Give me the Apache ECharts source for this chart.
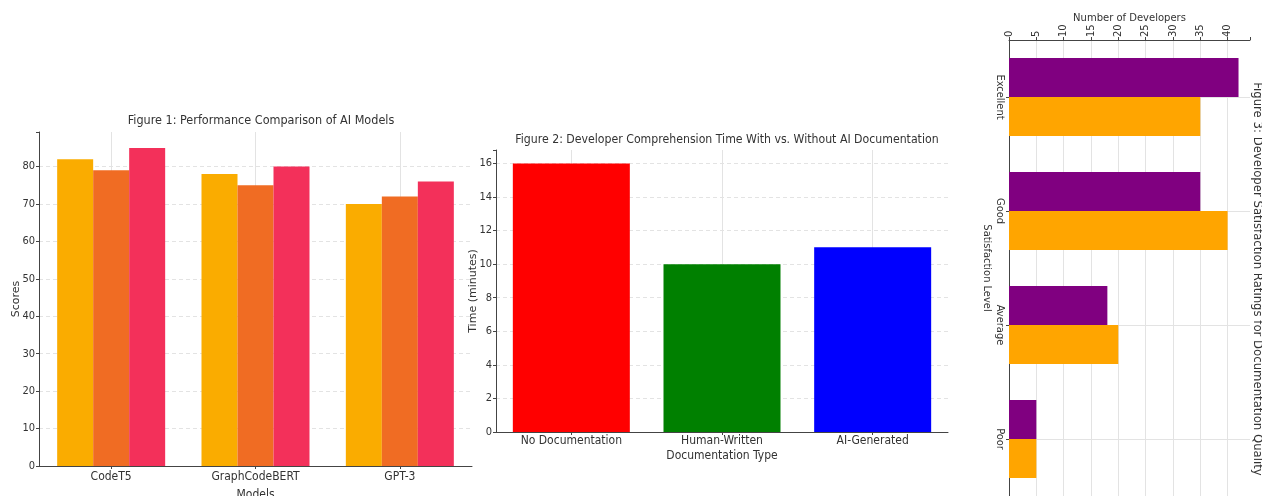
<!DOCTYPE html>
<html>
<head>
<meta charset="utf-8">
<script src="https://cdn.jsdelivr.net/npm/echarts@6/dist/echarts.min.js"></script>
<style>html,body{margin:0;padding:0;background:#fff}#c{width:1262px;height:496px}</style>
</head>
<body>
<div id="c"></div>
<script>
// ---- data ----
const models = ['CodeT5', 'GraphCodeBERT', 'GPT-3'];
const scoresA = [82, 78, 70];
const scoresB = [79, 75, 72];
const scoresC = [85, 80, 76];
const scoreTicks = [0, 10, 20, 30, 40, 50, 60, 70, 80];

const docTypes = ['No Documentation', 'Human-Written', 'AI-Generated'];
const times = [16, 10, 11];
const timeTicks = [0, 2, 4, 6, 8, 10, 12, 14, 16];

const levels = ['Excellent', 'Good', 'Average', 'Poor'];
const devsPurple = [42, 35, 18, 5];
const devsOrange = [35, 40, 20, 5];
const devTicks = [0, 5, 10, 15, 20, 25, 30, 35, 40];

// ---- styles ----
const NARROW = "'Liberation Sans Narrow','DejaVu Sans Condensed','Roboto Condensed','Open Sans',sans-serif";
const NORMAL = "'DejaVu Sans',sans-serif";
const TXT = '#333';
const AX = '#444';
const GRIDC = '#e3e3e3';
const docColors = ['#ff0000', '#008000', '#0000ff'];

function valAxis(grid, max, interval, ticks, extra) {
  return Object.assign({
    type: 'value', gridIndex: grid, min: 0, max: max, interval: interval,
    nameMoveOverlap: false,
    axisLine: {show: true, lineStyle: {color: AX, width: 1}},
    axisTick: {show: true, length: 3, lineStyle: {color: AX}},
    axisLabel: {color: TXT, fontFamily: NARROW, fontSize: 11, margin: 4,
      formatter: v => ticks.indexOf(v) >= 0 ? String(v) : ''},
    splitLine: {show: true, showMaxLine: false, lineStyle: {color: GRIDC, type: [4, 3], width: 1}}
  }, extra || {});
}
function catAxis(grid, data, extra) {
  return Object.assign({
    type: 'category', gridIndex: grid, data: data,
    nameMoveOverlap: false,
    axisLine: {show: true, lineStyle: {color: AX, width: 1}},
    axisTick: {show: true, alignWithLabel: true, length: 3, lineStyle: {color: AX}},
    axisLabel: {color: TXT, fontFamily: NARROW, fontSize: 12, margin: 5, interval: 0},
    splitLine: {show: true, alignWithLabel: true, lineStyle: {color: GRIDC, width: 1}}
  }, extra || {});
}

const chart = echarts.init(document.getElementById('c'), null, {renderer: 'canvas'});
chart.setOption({
  animation: false,
  backgroundColor: '#fff',
  title: [
    {text: 'Figure 1: Performance Comparison of AI Models', left: 256, top: 109, textAlign: 'center',
     textStyle: {fontFamily: NARROW, fontSize: 12.5, fontWeight: 'normal', color: TXT}},
    {text: 'Figure 2: Developer Comprehension Time With vs. Without AI Documentation', left: 722, top: 129, textAlign: 'center',
     textStyle: {fontFamily: NARROW, fontSize: 12.2, fontWeight: 'normal', color: TXT}}
  ],
  graphic: [
    {type: 'text', x: 1251, y: 279, rotation: -Math.PI / 2,
     style: {text: 'Figure 3: Developer Satisfaction Ratings for Documentation Quality', fontFamily: NARROW,
       fontSize: 13, fill: TXT, align: 'center', verticalAlign: 'bottom'}}
  ],
  grid: [
    {left: 39, top: 132, width: 433, height: 334, outerBoundsMode: 'none'},
    {left: 496, top: 150, width: 452, height: 282, outerBoundsMode: 'none'},
    {left: 1009, top: 40, width: 241, height: 456, outerBoundsMode: 'none'}
  ],
  xAxis: [
    catAxis(0, models, {name: 'Models', nameLocation: 'middle', nameGap: 23,
      nameTextStyle: {color: TXT, fontFamily: NARROW, fontSize: 12}}),
    catAxis(1, docTypes, {name: 'Documentation Type', nameLocation: 'middle', nameGap: 18,
      axisLabel: {color: TXT, fontFamily: NARROW, fontSize: 12, margin: 3, interval: 0},
      nameTextStyle: {color: TXT, fontFamily: NARROW, fontSize: 12}}),
    valAxis(2, 44.1, 5, devTicks, {position: 'top', name: 'Number of Developers', nameLocation: 'middle', nameGap: 17,
      nameTextStyle: {color: TXT, fontFamily: NORMAL, fontSize: 10},
      axisLabel: {color: TXT, fontFamily: NORMAL, fontSize: 10, margin: 3, rotate: -90,
        formatter: v => devTicks.indexOf(v) >= 0 ? String(v) : ''},
      splitLine: {show: true, showMaxLine: false, lineStyle: {color: GRIDC, width: 1}}})
  ],
  yAxis: [
    valAxis(0, 89.25, 10, scoreTicks, {name: 'Scores', nameLocation: 'middle', nameGap: 17, nameRotate: 90,
      nameTextStyle: {color: TXT, fontFamily: NORMAL, fontSize: 11}}),
    valAxis(1, 16.8, 2, timeTicks, {name: 'Time (minutes)', nameLocation: 'middle', nameGap: 17, nameRotate: 90,
      nameTextStyle: {color: TXT, fontFamily: NORMAL, fontSize: 11}}),
    catAxis(2, levels, {inverse: true, name: 'Satisfaction Level', nameLocation: 'middle', nameGap: 17, nameRotate: -90,
      nameTextStyle: {color: TXT, fontFamily: NARROW, fontSize: 11},
      axisLabel: {color: TXT, fontFamily: NARROW, fontSize: 11, margin: 4, rotate: -90, interval: 0}})
  ],
  series: [
    {type: 'bar', name: 'Series A', xAxisIndex: 0, yAxisIndex: 0, data: scoresA, barWidth: 36, barGap: '0%',
     itemStyle: {color: '#faac00'}},
    {type: 'bar', name: 'Series B', xAxisIndex: 0, yAxisIndex: 0, data: scoresB, barWidth: 36, barGap: '0%',
     itemStyle: {color: '#f06c23'}},
    {type: 'bar', name: 'Series C', xAxisIndex: 0, yAxisIndex: 0, data: scoresC, barWidth: 36, barGap: '0%',
     itemStyle: {color: '#f3305a'}},
    {type: 'bar', name: 'Time', xAxisIndex: 1, yAxisIndex: 1, barWidth: 117,
     data: times.map((v, i) => ({value: v, itemStyle: {color: docColors[i]}}))},
    {type: 'bar', name: 'Purple', xAxisIndex: 2, yAxisIndex: 2, data: devsPurple, barWidth: 39, barGap: '0%',
     itemStyle: {color: '#800080'}},
    {type: 'bar', name: 'Orange', xAxisIndex: 2, yAxisIndex: 2, data: devsOrange, barWidth: 39, barGap: '0%',
     itemStyle: {color: '#ffa500'}}
  ]
});
</script>
</body>
</html>
